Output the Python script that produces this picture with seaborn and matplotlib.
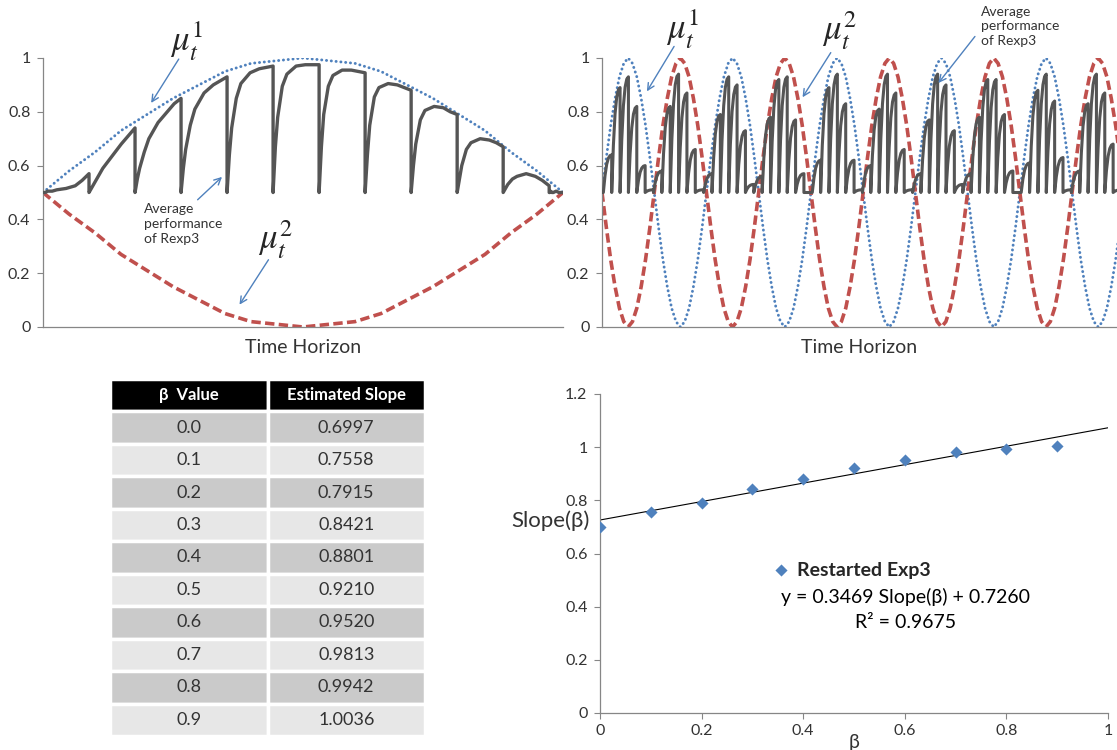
import numpy as np
import pandas as pd
import matplotlib
matplotlib.use('Agg')
import matplotlib.pyplot as plt
import seaborn as sns

sns.set_theme(style='white')
plt.rcParams['font.family'] = ['Lato', 'DejaVu Sans']
plt.rcParams['mathtext.fontset'] = 'stix'

BLUE = '#4f81bd'
RED = '#c0504d'
GREY = '#555555'
AXIS = '#868686'
TEXT = '#333333'

# ---- top left: one slow change over the horizon ----
slow_t = np.linspace(0, 1130, 21)
slow_mu1 = [0.50, 0.58, 0.65, 0.73, 0.79, 0.85, 0.90, 0.95, 0.98, 0.99, 1.00,
            0.99, 0.98, 0.95, 0.90, 0.85, 0.79, 0.73, 0.65, 0.58, 0.50]
slow_mu2 = [0.50, 0.42, 0.35, 0.27, 0.21, 0.15, 0.10, 0.05, 0.02, 0.01, 0.00,
            0.01, 0.02, 0.05, 0.10, 0.15, 0.21, 0.27, 0.35, 0.42, 0.50]

# restart points of Rexp3 and the average reward read inside each block
slow_restarts = [0, 100, 200, 300, 400, 500, 600, 700, 800, 900, 1000, 1100, 1130]
block_frac = [0, 0.05, 0.1, 0.2, 0.3, 0.5, 0.7, 0.85, 1.0]
slow_rexp3 = [
    [0.50, 0.50, 0.505, 0.505, 0.51, 0.515, 0.525, 0.545, 0.57],
    [0.50, 0.515, 0.53, 0.56, 0.59, 0.635, 0.68, 0.71, 0.74],
    [0.50, 0.55, 0.59, 0.65, 0.70, 0.76, 0.80, 0.83, 0.85],
    [0.50, 0.59, 0.66, 0.75, 0.81, 0.87, 0.90, 0.915, 0.93],
    [0.50, 0.64, 0.74, 0.85, 0.905, 0.945, 0.96, 0.965, 0.97],
    [0.50, 0.67, 0.78, 0.895, 0.94, 0.97, 0.975, 0.975, 0.975],
    [0.50, 0.67, 0.79, 0.895, 0.935, 0.955, 0.955, 0.95, 0.945],
    [0.50, 0.64, 0.75, 0.855, 0.89, 0.905, 0.90, 0.89, 0.88],
    [0.50, 0.60, 0.68, 0.77, 0.805, 0.82, 0.815, 0.80, 0.79],
    [0.50, 0.55, 0.60, 0.66, 0.685, 0.70, 0.695, 0.685, 0.67],
    [0.50, 0.515, 0.53, 0.55, 0.56, 0.57, 0.56, 0.545, 0.525],
    [0.50, 0.50, 0.505, 0.50, 0.50, 0.505, 0.50, 0.50, 0.50],
]

# ---- top right: fast periodic change (x in periods) ----
fast_mu1_cycle = [0.50, 0.63, 0.75, 0.85, 0.93, 0.98, 1.00, 0.98, 0.93, 0.85, 0.75, 0.63,
                  0.50, 0.37, 0.25, 0.15, 0.07, 0.02, 0.00, 0.02, 0.07, 0.15, 0.25, 0.37]
fast_mu2_cycle = [0.50, 0.37, 0.25, 0.15, 0.07, 0.02, 0.00, 0.02, 0.07, 0.15, 0.25, 0.37,
                  0.50, 0.63, 0.75, 0.85, 0.93, 0.98, 1.00, 0.98, 0.93, 0.85, 0.75, 0.63]
fast_periods = 5
fast_first_restart = 0.013
fast_restart_gap = 0.08
restart_level = 0.5
# peak reached just before each restart
fast_peaks = [0.50,
              0.64, 0.89, 0.93, 0.82, 0.60, 0.51, 0.58, 0.82, 0.94, 0.87, 0.66, 0.51,
              0.57, 0.79, 0.93, 0.90, 0.73, 0.53, 0.56, 0.78, 0.92, 0.93, 0.77, 0.57, 0.50,
              0.62, 0.89, 0.94, 0.83, 0.62, 0.51, 0.60, 0.81, 0.94, 0.87, 0.66, 0.51,
              0.57, 0.77, 0.94, 0.90, 0.73, 0.53, 0.57, 0.78, 0.92, 0.92, 0.79, 0.58, 0.50,
              0.61, 0.88, 0.94, 0.84, 0.63, 0.51, 0.58, 0.83, 0.94, 0.87, 0.68, 0.51]
spike_frac = [0, 0.2, 0.4, 0.6, 0.8, 1.0]
spike_shape = [0, 0.45, 0.75, 0.91, 0.98, 1.0]

# ---- bottom: beta vs slope ----
beta = [0.0, 0.1, 0.2, 0.3, 0.4, 0.5, 0.6, 0.7, 0.8, 0.9]
slope = [0.6997, 0.7558, 0.7915, 0.8421, 0.8801, 0.9210, 0.9520, 0.9813, 0.9942, 1.0036]
fit_coef = [0.3469, 0.7260]
fit_r2 = 0.9675
table_header = ['β  Value', 'Estimated Slope']


def build_slow_curve():
    xs, ys = [], []
    for i, vals in enumerate(slow_rexp3):
        a, b = slow_restarts[i], slow_restarts[i + 1]
        for f, v in zip(block_frac, vals):
            xs.append(a + f * (b - a))
            ys.append(v)
    return pd.DataFrame({'t': xs, 'reward': ys})


def build_fast_curve():
    xs, ys = [], []
    prev = 0.0
    for k, peak in enumerate(fast_peaks):
        end = fast_first_restart + fast_restart_gap * k
        for f, p in zip(spike_frac, spike_shape):
            xs.append(prev + f * (end - prev))
            ys.append(restart_level + (peak - restart_level) * p)
        prev = end
    return pd.DataFrame({'t': xs, 'reward': ys})


def style_axes(ax):
    sns.despine(ax=ax)
    for s in ['left', 'bottom']:
        ax.spines[s].set_color(AXIS)
        ax.spines[s].set_linewidth(0.9)
    ax.tick_params(axis='y', left=True, length=4, width=0.8, color=AXIS,
                   labelsize=11.5, labelcolor=TEXT, pad=5)
    ax.yaxis.set_major_formatter(plt.FuncFormatter(lambda v, p: f'{v:g}'))


def mu_lines(ax, x, mu1, mu2):
    ax.plot(x, mu1, color=BLUE, lw=2.1, linestyle=(0, (0.05, 1.6)),
            dash_capstyle='round', zorder=2)
    ax.plot(x, mu2, color=RED, lw=2.6, linestyle=(0, (2.6, 1.2)), zorder=2)


def arrow(ax, tail, head):
    ax.annotate('', xy=head, xytext=tail, annotation_clip=False,
                arrowprops=dict(arrowstyle='->', color=BLUE, lw=1.0,
                                shrinkA=0, shrinkB=0, mutation_scale=12))


W, H = 1117, 750
fig = plt.figure(figsize=(W / 100, H / 100), dpi=100)


def px_axes(left, top, right, bottom):
    return fig.add_axes([left / W, 1 - bottom / H, (right - left) / W, (bottom - top) / H])


# top left
ax1 = px_axes(43, 58, 563, 327)
mu_lines(ax1, slow_t, slow_mu1, slow_mu2)
sns.lineplot(data=build_slow_curve(), x='t', y='reward', sort=False, estimator=None,
             color=GREY, lw=2.4, ax=ax1, zorder=3)
ax1.set_xlim(0, 1130)
ax1.set_ylim(0, 1)
ax1.set_yticks([0, 0.2, 0.4, 0.6, 0.8, 1.0])
ax1.set_xticks([])
style_axes(ax1)
ax1.set_xlabel('Time Horizon', fontsize=14, color=TEXT, labelpad=9)
ax1.set_ylabel('')
ax1.text(312, 1.06, r'$\mu_t^1$', fontsize=25, ha='center', va='center')
arrow(ax1, (295, 0.996), (235, 0.833))
ax1.text(219, 0.384, 'Average\nperformance\nof Rexp3', fontsize=10, color=TEXT,
         ha='left', va='center', linespacing=1.3)
arrow(ax1, (336, 0.473), (389, 0.558))
ax1.text(506, 0.325, r'$\mu_t^2$', fontsize=25, ha='center', va='center')
arrow(ax1, (490, 0.25), (427, 0.083))

# top right
ax2 = px_axes(602, 58, 1117, 327)
fast_x = np.arange(24 * fast_periods + 1) / 24
mu_lines(ax2, fast_x, np.tile(fast_mu1_cycle, fast_periods + 1)[:len(fast_x)],
         np.tile(fast_mu2_cycle, fast_periods + 1)[:len(fast_x)])
sns.lineplot(data=build_fast_curve(), x='t', y='reward', sort=False, estimator=None,
             color=GREY, lw=2.2, ax=ax2, zorder=3)
ax2.set_xlim(0, 4.93)
ax2.set_ylim(0, 1)
ax2.set_yticks([0, 0.2, 0.4, 0.6, 0.8, 1.0])
ax2.set_xticks([])
style_axes(ax2)
ax2.set_xlabel('Time Horizon', fontsize=14, color=TEXT, labelpad=9)
ax2.set_ylabel('')
ax2.text(0.776, 1.105, r'$\mu_t^1$', fontsize=25, ha='center', va='center')
arrow(ax2, (0.69, 1.043), (0.43, 0.876))
ax2.text(2.27, 1.10, r'$\mu_t^2$', fontsize=25, ha='center', va='center')
arrow(ax2, (2.19, 1.02), (1.92, 0.854))
ax2.text(3.63, 1.118, 'Average\nperformance\nof Rexp3', fontsize=10, color=TEXT,
         ha='left', va='center', linespacing=1.25)
arrow(ax2, (3.57, 1.08), (3.22, 0.907))

# bottom left table
ax_tab = px_axes(110, 379, 425, 736)
ax_tab.axis('off')
cells = [[f'{b:.1f}', f'{s:.4f}'] for b, s in zip(beta, slope)]
tab = ax_tab.table(cellText=cells, colLabels=table_header, cellLoc='center',
                   bbox=[0, 0, 1, 1])
tab.auto_set_font_size(False)
tab.set_fontsize(13)
for (r, c), cell in tab.get_celld().items():
    cell.set_edgecolor('white')
    cell.set_linewidth(2.5)
    if r == 0:
        cell.set_facecolor('black')
        cell.get_text().set_color('white')
        cell.get_text().set_fontweight('bold')
        cell.get_text().set_fontsize(12)
    else:
        cell.set_facecolor('#cacaca' if r % 2 == 1 else '#e7e7e7')
        cell.get_text().set_color(TEXT)

# bottom right scatter with trend line
ax3 = px_axes(600, 394, 1108, 713)
pts = pd.DataFrame({'beta': beta, 'slope': slope})
line_x = np.array([0.0, 1.0])
ax3.plot(line_x, np.polyval(fit_coef, line_x), color='black', lw=0.8, zorder=2)
sns.scatterplot(data=pts, x='beta', y='slope', marker='D', s=38, color=BLUE,
                edgecolor=BLUE, linewidth=0, ax=ax3, zorder=3, label='Restarted Exp3')
ax3.set_xlim(0, 1)
ax3.set_ylim(0, 1.2)
ax3.set_xticks([0, 0.2, 0.4, 0.6, 0.8, 1.0])
ax3.set_yticks([0, 0.2, 0.4, 0.6, 0.8, 1.0, 1.2])
style_axes(ax3)
ax3.tick_params(axis='x', bottom=True, length=4, width=0.8, color=AXIS,
                labelsize=11.5, labelcolor=TEXT, pad=4)
ax3.xaxis.set_major_formatter(plt.FuncFormatter(lambda v, p: f'{v:g}'))
ax3.set_xlabel('β', fontsize=14, color=TEXT, labelpad=-3)
ax3.set_ylabel('Slope(β)', fontsize=16, color=TEXT, rotation=0, ha='right', va='center')
ax3.yaxis.set_label_coords(-0.02, 0.602)
ax3.legend(loc='center left', bbox_to_anchor=(0.345, 0.448), frameon=False,
           handlelength=0.6, handletextpad=0.5, borderpad=0, borderaxespad=0,
           prop={'weight': 'bold', 'size': 14})
ax3.text(0.602, 0.364, f'y = {fit_coef[0]:.4f} Slope(β) + {fit_coef[1]:.4f}',
         transform=ax3.transAxes, ha='center', va='center', fontsize=14, color='black')
ax3.text(0.602, 0.285, f'R² = {fit_r2:.4f}', transform=ax3.transAxes,
         ha='center', va='center', fontsize=14, color='black')

fig.savefig('out.png', dpi=100, facecolor='white')
